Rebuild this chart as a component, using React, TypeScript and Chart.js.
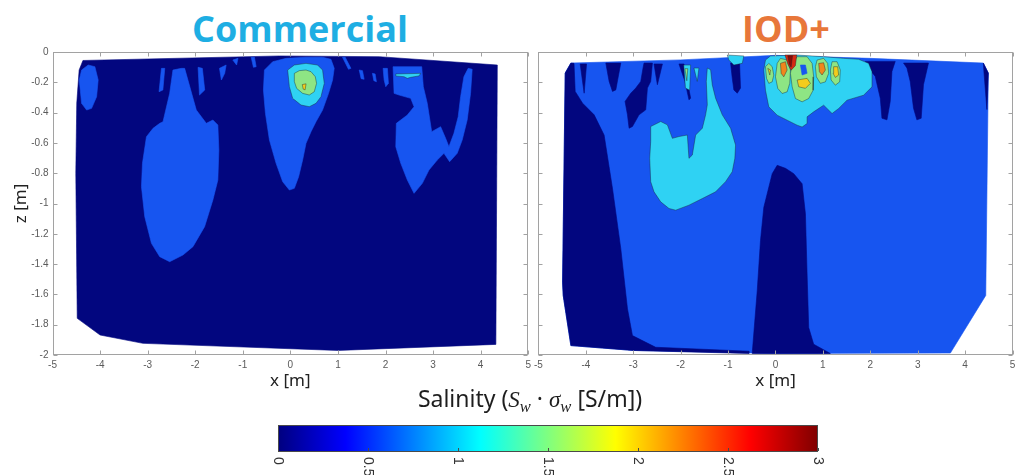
import React, { useEffect, useRef } from 'react';
import { Chart, registerables } from 'chart.js';

Chart.register(...registerables);

type Pt = [number, number];

// ---------------- axis / scale values ----------------
const xRange: Pt = [-5, 5];
const zRange: Pt = [-2, 0];
const xStep = 1;
const zStep = 0.2;
const salinityRange: Pt = [0, 3];
const salinityTicks = [0, 0.5, 1, 1.5, 2, 2.5, 3];
const salinityTickLabels = ['0', '0.5', '1', '1.5', '2', '2.5', '3'];

// jet colour map stops (salinity value -> colour)
const jetStops = [0, 0.375, 1.125, 1.875, 2.625, 3];
const jetColors = ['#00007f', '#0000ff', '#00ffff', '#ffff00', '#ff0000', '#7f0000'];

// filled contour level colours (level index 0..7)
const levelColors = ['#02067f', '#1755f0', '#2fd2f3', '#8ee584', '#f4cc1c', '#f0861c', '#d62a12', '#8c0a05'];

// ---------------- Commercial: contour regions (x [m], z [m]) ----------------
const comHull: Pt[] = [[-4.36, -0.056], [-0.23, -0.026], [1.87, -0.031], [4.35, -0.086], [4.32, -1.93], [1.0, -1.97], [-3.1, -1.923], [-4.0, -1.868], [-4.48, -1.758], [-4.51, -0.8], [-4.49, -0.339], [-4.44, -0.119]];
const comBlueNW: Pt[] = [[-4.388, -0.119], [-4.25, -0.086], [-4.109, -0.097], [-4.04, -0.185], [-4.073, -0.295], [-4.178, -0.372], [-4.283, -0.383], [-4.388, -0.339], [-4.438, -0.185]];
const comBlueWest: Pt[] = [[-2.468, -0.119], [-2.291, -0.108], [-2.222, -0.108], [-1.977, -0.383], [-1.767, -0.471], [-1.629, -0.449], [-1.524, -0.482], [-1.503, -0.647], [-1.524, -0.845], [-1.629, -0.977], [-1.803, -1.153], [-2.048, -1.285], [-2.258, -1.34], [-2.537, -1.384], [-2.746, -1.351], [-2.92, -1.263], [-3.061, -1.087], [-3.13, -0.889], [-3.109, -0.735], [-3.025, -0.559], [-2.887, -0.504], [-2.746, -0.471], [-2.677, -0.46], [-2.537, -0.273]];
const comStrip1: Pt[] = [[-2.71, -0.108], [-2.64, -0.108], [-2.68, -0.251], [-2.76, -0.262]];
const comStrip2: Pt[] = [[-1.94, -0.101], [-1.85, -0.108], [-1.8, -0.251], [-1.91, -0.284]];
const comStrip3: Pt[] = [[-1.49, -0.108], [-1.35, -0.086], [-1.38, -0.141], [-1.45, -0.185]];
const comStrip4: Pt[] = [[-1.21, -0.053], [-1.1, -0.042], [-1.13, -0.086]];
const comStrip5: Pt[] = [[-0.824, -0.035], [-0.755, -0.035], [-0.719, -0.097], [-0.776, -0.101]];
const comStrip6: Pt[] = [[1.096, -0.035], [1.153, -0.035], [1.273, -0.108], [1.222, -0.114]];
const comStrip7: Pt[] = [[1.447, -0.119], [1.516, -0.123], [1.551, -0.18], [1.488, -0.176]];
const comStrip8: Pt[] = [[1.725, -0.141], [1.782, -0.145], [1.809, -0.196], [1.755, -0.189]];
const comStrip9: Pt[] = [[1.95, -0.108], [2.04, -0.108], [2.061, -0.207], [2.006, -0.229], [1.971, -0.185]];
const comBlueCenter: Pt[] = [[-0.545, -0.119], [-0.371, -0.064], [-0.09, -0.042], [0.329, -0.035], [0.677, -0.035], [0.853, -0.048], [0.922, -0.108], [0.887, -0.185], [0.803, -0.273], [0.677, -0.383], [0.539, -0.46], [0.434, -0.526], [0.329, -0.603], [0.258, -0.713], [0.174, -0.823], [0.084, -0.9], [-0.021, -0.911], [-0.161, -0.856], [-0.3, -0.735], [-0.44, -0.581], [-0.524, -0.405], [-0.566, -0.251]];
const comBlueEast: Pt[] = [[2.159, -0.097], [2.761, -0.097], [2.795, -0.229], [2.878, -0.339], [2.971, -0.526], [3.159, -0.493], [3.264, -0.57], [3.333, -0.625], [3.438, -0.537], [3.528, -0.427], [3.579, -0.295], [3.648, -0.163], [3.738, -0.108], [3.822, -0.114], [3.788, -0.273], [3.717, -0.449], [3.612, -0.581], [3.507, -0.669], [3.348, -0.724], [3.229, -0.669], [3.088, -0.713], [2.914, -0.779], [2.774, -0.867], [2.6, -0.933], [2.459, -0.845], [2.321, -0.735], [2.216, -0.625], [2.228, -0.471], [2.459, -0.416], [2.6, -0.361], [2.53, -0.306], [2.285, -0.284], [2.18, -0.273]];
const comCyanCenter: Pt[] = [[-0.057, -0.119], [0.084, -0.086], [0.329, -0.075], [0.572, -0.086], [0.677, -0.119], [0.713, -0.207], [0.644, -0.295], [0.539, -0.339], [0.398, -0.361], [0.224, -0.35], [0.048, -0.306], [-0.021, -0.229]];
const comCyanEast: Pt[] = [[2.216, -0.145], [2.74, -0.141], [2.704, -0.158], [2.53, -0.167], [2.459, -0.174], [2.39, -0.163], [2.216, -0.158]];
const comGreenCenter: Pt[] = [[0.084, -0.141], [0.189, -0.123], [0.329, -0.119], [0.434, -0.13], [0.524, -0.163], [0.551, -0.207], [0.503, -0.262], [0.398, -0.284], [0.258, -0.273], [0.132, -0.24], [0.084, -0.196]];
const comYellowCenter: Pt[] = [[0.25, -0.215], [0.33, -0.21], [0.31, -0.25], [0.27, -0.245]];

// ---------------- IOD+: contour regions (x [m], z [m]) ----------------
const iodHull: Pt[] = [[-4.316, -0.073], [-2, -0.052], [0, -0.022], [2, -0.042], [4.385, -0.073], [4.49, -0.139], [4.436, -1.607], [3.69, -1.987], [0, -1.99], [-3, -1.97], [-4.316, -1.938], [-4.478, -1.607], [-4.491, -1.519], [-4.436, -0.139]];
const iodNavyWest: Pt[] = [[-4.436, -0.139], [-4.316, -0.073], [-4.25, -0.075], [-4.225, -0.26], [-4.069, -0.338], [-3.825, -0.415], [-3.615, -0.548], [-3.438, -0.901], [-3.263, -1.298], [-3.122, -1.695], [-3.017, -1.872], [-2.526, -1.949], [-0.562, -1.975], [-0.562, -1.99], [-3, -1.97], [-4.316, -1.938], [-4.478, -1.607], [-4.491, -1.519]];
const iodNavyColumn: Pt[] = [[-0.069, -0.803], [0.036, -0.748], [0.211, -0.768], [0.385, -0.803], [0.562, -0.87], [0.632, -1.068], [0.667, -1.466], [0.701, -1.819], [0.806, -1.929], [1.158, -1.99], [-0.491, -1.99], [-0.385, -1.576], [-0.316, -1.245], [-0.246, -1.025]];
const iodNotch1: Pt[] = [[-4.12, -0.079], [-3.985, -0.079], [-4.036, -0.272]];
const iodNotch2: Pt[] = [[-3.579, -0.073], [-3.263, -0.073], [-3.368, -0.25], [-3.438, -0.26], [-3.509, -0.194]];
const iodNotch3: Pt[] = [[-2.773, -0.073], [-2.596, -0.073], [-2.632, -0.194], [-2.701, -0.238], [-2.737, -0.382], [-2.878, -0.415], [-3.017, -0.492], [-3.088, -0.503], [-3.122, -0.415], [-3.173, -0.326], [-3.053, -0.272], [-2.947, -0.238], [-2.842, -0.194], [-2.794, -0.106]];
const iodNotch4: Pt[] = [[-2.562, -0.079], [-2.385, -0.079], [-2.491, -0.216]];
const iodNotch5: Pt[] = [[-2.036, -0.079], [-1.931, -0.079], [-1.789, -0.305], [-1.825, -0.316], [-1.909, -0.194]];
const iodNotch6: Pt[] = [[-0.947, -0.073], [-0.758, -0.073], [-0.737, -0.238], [-0.806, -0.272], [-0.878, -0.25], [-0.912, -0.172]];
const iodNotch7: Pt[] = [[1.895, -0.062], [2.526, -0.062], [2.457, -0.128], [2.421, -0.326], [2.352, -0.448], [2.246, -0.437], [2.211, -0.305], [2.105, -0.161], [1.964, -0.106]];
const iodNotch8: Pt[] = [[2.701, -0.073], [3.228, -0.073], [3.122, -0.216], [3.074, -0.437], [2.983, -0.448], [2.912, -0.371], [2.842, -0.194], [2.773, -0.106]];
const iodNotch9: Pt[] = [[4.385, -0.073], [4.49, -0.139], [4.46, -0.38], [4.4, -0.14]];
const iodCyanWest: Pt[] = [[-2.632, -0.492], [-2.421, -0.459], [-2.28, -0.481], [-2.175, -0.57], [-2.036, -0.558], [-1.859, -0.548], [-1.825, -0.702], [-1.754, -0.68], [-1.684, -0.548], [-1.543, -0.503], [-1.474, -0.415], [-1.438, -0.349], [-1.459, -0.194], [-1.438, -0.106], [-1.368, -0.117], [-1.333, -0.217], [-1.263, -0.305], [-1.122, -0.415], [-0.947, -0.503], [-0.842, -0.614], [-0.857, -0.702], [-0.912, -0.79], [-1.053, -0.856], [-1.263, -0.923], [-1.543, -0.967], [-1.825, -1.011], [-2.105, -1.044], [-2.246, -1.033], [-2.421, -0.989], [-2.562, -0.923], [-2.632, -0.856], [-2.653, -0.702], [-2.632, -0.591]];
const iodCyanBit1: Pt[] = [[-1.935, -0.086], [-1.79, -0.086], [-1.81, -0.252], [-1.9, -0.238]];
const iodCyanBit2: Pt[] = [[-1.72, -0.106], [-1.615, -0.106], [-1.65, -0.194]];
const iodCyanTop: Pt[] = [[-1.017, -0.02], [-0.667, -0.026], [-0.701, -0.075], [-0.878, -0.086], [-0.983, -0.053]];
const iodCyanCenter: Pt[] = [[-0.211, -0.053], [-0.246, -0.119], [-0.211, -0.252], [-0.141, -0.362], [0.036, -0.417], [0.246, -0.45], [0.457, -0.483], [0.562, -0.495], [0.667, -0.472], [0.667, -0.428], [0.806, -0.395], [1.017, -0.351], [1.194, -0.406], [1.333, -0.373], [1.509, -0.318], [1.859, -0.285], [2.036, -0.23], [2.036, -0.13], [1.964, -0.075], [1.754, -0.048], [1.438, -0.042], [1.017, -0.031], [0.457, -0.02], [-0.105, -0.026]];
const iodGreenBit: Pt[] = [[-1.91, -0.11], [-1.85, -0.11], [-1.87, -0.19]];
const iodGreen1: Pt[] = [[-0.211, -0.097], [-0.141, -0.075], [-0.069, -0.097], [-0.036, -0.152], [-0.069, -0.197], [-0.141, -0.207], [-0.189, -0.174]];
const iodGreen2: Pt[] = [[0.036, -0.075], [0.105, -0.042], [0.246, -0.053], [0.316, -0.119], [0.301, -0.207], [0.246, -0.263], [0.141, -0.274], [0.048, -0.24], [0.0, -0.164]];
const iodGreen3: Pt[] = [[0.352, -0.075], [0.457, -0.031], [0.667, -0.031], [0.773, -0.075], [0.806, -0.164], [0.794, -0.252], [0.701, -0.307], [0.562, -0.329], [0.421, -0.307], [0.352, -0.23], [0.316, -0.141]];
const iodGreen4: Pt[] = [[0.878, -0.053], [1.017, -0.042], [1.101, -0.075], [1.122, -0.141], [1.053, -0.197], [0.947, -0.207], [0.863, -0.164], [0.842, -0.097]];
const iodGreen5: Pt[] = [[1.194, -0.064], [1.299, -0.064], [1.368, -0.119], [1.354, -0.197], [1.263, -0.219], [1.173, -0.185], [1.158, -0.119]];
const iodBlueSpot: Pt[] = [[0.526, -0.086], [0.632, -0.086], [0.667, -0.141], [0.562, -0.152]];
const iodYellow1: Pt[] = [[-0.162, -0.108], [-0.105, -0.119], [-0.12, -0.152]];
const iodYellow3: Pt[] = [[0.457, -0.185], [0.667, -0.174], [0.737, -0.207], [0.632, -0.24], [0.491, -0.23]];
const iodYellow5: Pt[] = [[1.227, -0.097], [1.312, -0.097], [1.333, -0.152], [1.263, -0.168], [1.215, -0.141]];
const iodOrange2: Pt[] = [[0.105, -0.075], [0.211, -0.064], [0.246, -0.119], [0.175, -0.164], [0.12, -0.141]];
const iodOrange4: Pt[] = [[0.912, -0.075], [1.017, -0.071], [1.053, -0.119], [0.983, -0.152], [0.926, -0.13]];
const iodRed: Pt[] = [[0.2, -0.02], [0.45, -0.02], [0.42, -0.09], [0.33, -0.12], [0.26, -0.08]];
const iodDarkRed: Pt[] = [[0.26, -0.025], [0.36, -0.025], [0.33, -0.1], [0.29, -0.08]];

type Layer = { level: number; pts: Pt[] };

// bottom-to-top drawing order
const commercialLayers: Layer[] = [
  { level: 0, pts: comHull },
  { level: 1, pts: comBlueNW },
  { level: 1, pts: comBlueWest },
  { level: 1, pts: comStrip1 },
  { level: 1, pts: comStrip2 },
  { level: 1, pts: comStrip3 },
  { level: 1, pts: comStrip4 },
  { level: 1, pts: comStrip5 },
  { level: 1, pts: comStrip6 },
  { level: 1, pts: comStrip7 },
  { level: 1, pts: comStrip8 },
  { level: 1, pts: comStrip9 },
  { level: 1, pts: comBlueCenter },
  { level: 1, pts: comBlueEast },
  { level: 2, pts: comCyanCenter },
  { level: 2, pts: comCyanEast },
  { level: 3, pts: comGreenCenter },
  { level: 4, pts: comYellowCenter },
];

const iodLayers: Layer[] = [
  { level: 1, pts: iodHull },
  { level: 0, pts: iodNavyWest },
  { level: 0, pts: iodNavyColumn },
  { level: 0, pts: iodNotch1 },
  { level: 0, pts: iodNotch2 },
  { level: 0, pts: iodNotch3 },
  { level: 0, pts: iodNotch4 },
  { level: 0, pts: iodNotch5 },
  { level: 0, pts: iodNotch6 },
  { level: 0, pts: iodNotch7 },
  { level: 0, pts: iodNotch8 },
  { level: 0, pts: iodNotch9 },
  { level: 2, pts: iodCyanWest },
  { level: 2, pts: iodCyanBit1 },
  { level: 2, pts: iodCyanBit2 },
  { level: 2, pts: iodCyanTop },
  { level: 2, pts: iodCyanCenter },
  { level: 3, pts: iodGreenBit },
  { level: 3, pts: iodGreen1 },
  { level: 3, pts: iodGreen2 },
  { level: 3, pts: iodGreen3 },
  { level: 3, pts: iodGreen4 },
  { level: 3, pts: iodGreen5 },
  { level: 1, pts: iodBlueSpot },
  { level: 4, pts: iodYellow1 },
  { level: 4, pts: iodYellow3 },
  { level: 4, pts: iodYellow5 },
  { level: 5, pts: iodOrange2 },
  { level: 5, pts: iodOrange4 },
  { level: 6, pts: iodRed },
  { level: 7, pts: iodDarkRed },
];

// ---------------- plugins ----------------
const matlabAxes = {
  id: 'matlabAxes',
  afterDraw(chart: any) {
    const { ctx, chartArea: a, scales } = chart;
    const xs = scales.x;
    const ys = scales.y;
    const L = Math.round(a.left) + 0.5;
    const R = Math.round(a.right) - 0.5;
    const T = Math.round(a.top) + 0.5;
    const B = Math.round(a.bottom) - 0.5;
    const tl = 4;
    ctx.save();
    ctx.strokeStyle = '#a2a2a2';
    ctx.lineWidth = 1;
    ctx.strokeRect(L, T, R - L, B - T);
    ctx.beginPath();
    xs.ticks.forEach((t: any) => {
      const p = Math.round(xs.getPixelForValue(t.value)) + 0.5;
      ctx.moveTo(p, B);
      ctx.lineTo(p, B - tl);
      ctx.moveTo(p, T);
      ctx.lineTo(p, T + tl);
    });
    ys.ticks.forEach((t: any) => {
      const p = Math.round(ys.getPixelForValue(t.value)) + 0.5;
      ctx.moveTo(L, p);
      ctx.lineTo(L + tl, p);
      ctx.moveTo(R, p);
      ctx.lineTo(R - tl, p);
    });
    ctx.stroke();
    ctx.restore();
  },
};

const colorbarAxis = {
  id: 'colorbarAxis',
  afterDraw(chart: any) {
    const { ctx, chartArea: a, scales } = chart;
    const xs = scales.x;
    ctx.save();
    ctx.strokeStyle = '#4a4a4a';
    ctx.lineWidth = 1;
    ctx.strokeRect(Math.round(a.left) + 0.5, Math.round(a.top) + 0.5, Math.round(a.right - a.left) - 1, Math.round(a.bottom - a.top) - 1);
    ctx.beginPath();
    salinityTicks.forEach((v) => {
      const p = Math.round(xs.getPixelForValue(v)) + 0.5;
      ctx.moveTo(p, a.bottom - 1);
      ctx.lineTo(p, a.bottom - 4);
    });
    ctx.stroke();
    ctx.fillStyle = '#333';
    ctx.font = '14px "Liberation Sans", Arial, sans-serif';
    ctx.textAlign = 'left';
    ctx.textBaseline = 'middle';
    salinityTicks.forEach((v, i) => {
      const p = xs.getPixelForValue(v);
      ctx.save();
      ctx.translate(p, a.bottom + 5);
      ctx.rotate(Math.PI / 2);
      ctx.fillText(salinityTickLabels[i], 0, 0);
      ctx.restore();
    });
    ctx.restore();
  },
};

// ---------------- components ----------------
const tickFont = { family: '"Liberation Sans", Arial, sans-serif', size: 10 };
const axisTitleFont = { family: '"Noto Sans", sans-serif', size: 17 };

function layerDatasets(layers: Layer[]) {
  return layers
    .map((ly) => {
      const outlined = ly.level >= 2;
      const data = [...ly.pts, ly.pts[0]].map(([x, z]) => ({ x, y: z }));
      return {
        type: 'line' as const,
        data,
        showLine: true,
        fill: 'shape',
        backgroundColor: levelColors[ly.level],
        borderColor: outlined ? 'rgba(25,35,45,0.6)' : levelColors[ly.level],
        borderWidth: outlined ? 0.7 : 0.6,
        pointRadius: 0,
        tension: 0,
      };
    })
    .reverse();
}

type PanelProps = {
  layers: Layer[];
  left: number;
  width: number;
  padRight: number;
  yAxisWidth: number;
  showYLabels: boolean;
};

function ContourPanel({ layers, left, width, padRight, yAxisWidth, showYLabels }: PanelProps) {
  const ref = useRef<HTMLCanvasElement | null>(null);
  useEffect(() => {
    if (!ref.current) return;
    const chart = new Chart(ref.current, {
      type: 'scatter',
      data: { datasets: layerDatasets(layers) as any },
      options: {
        animation: false,
        responsive: false,
        events: [],
        layout: { padding: { left: 0, top: 52, right: padRight, bottom: 0 } },
        plugins: { legend: { display: false }, tooltip: { enabled: false } },
        scales: {
          x: {
            type: 'linear',
            min: xRange[0],
            max: xRange[1],
            grid: { display: false, drawTicks: false },
            border: { display: false },
            ticks: { stepSize: xStep, color: '#5a5a5a', font: tickFont, padding: 4, maxRotation: 0, autoSkip: false },
            title: { display: true, text: 'x [m]', color: '#222', font: axisTitleFont, padding: { top: 0, bottom: 9 } },
            afterFit: (s: any) => {
              s.height = 45;
            },
          },
          y: {
            type: 'linear',
            min: zRange[0],
            max: zRange[1],
            grid: { display: false, drawTicks: false },
            border: { display: false },
            ticks: {
              display: showYLabels,
              stepSize: zStep,
              color: '#5a5a5a',
              font: tickFont,
              padding: 4,
              autoSkip: false,
              callback: (v: any) => String(Math.round(Number(v) * 10) / 10),
            },
            title: { display: showYLabels, text: 'z [m]', color: '#222', font: axisTitleFont, padding: { top: 11, bottom: 0 } },
            afterFit: (s: any) => {
              s.width = yAxisWidth;
            },
          },
        },
      } as any,
      plugins: [matlabAxes],
    });
    return () => chart.destroy();
  }, []);
  return (
    <canvas
      ref={ref}
      width={width}
      height={400}
      style={{ position: 'absolute', left, top: 0, width, height: 400 }}
    />
  );
}

function Colorbar() {
  const ref = useRef<HTMLCanvasElement | null>(null);
  useEffect(() => {
    if (!ref.current) return;
    const rect = [
      { x: salinityRange[0], y: 0 },
      { x: salinityRange[1], y: 0 },
      { x: salinityRange[1], y: 1 },
      { x: salinityRange[0], y: 1 },
      { x: salinityRange[0], y: 0 },
    ];
    const chart = new Chart(ref.current, {
      type: 'scatter',
      data: {
        datasets: [
          {
            type: 'line',
            data: rect,
            showLine: true,
            fill: 'shape',
            borderWidth: 0,
            pointRadius: 0,
            backgroundColor: (c: any) => {
              const ch = c.chart;
              const xs = ch.scales && ch.scales.x;
              if (!ch.chartArea || !xs) return '#1755f0';
              const x0 = xs.getPixelForValue(salinityRange[0]);
              const x1 = xs.getPixelForValue(salinityRange[1]);
              const g = ch.ctx.createLinearGradient(x0, 0, x1, 0);
              jetStops.forEach((v, i) => g.addColorStop((v - salinityRange[0]) / (salinityRange[1] - salinityRange[0]), jetColors[i]));
              return g;
            },
          } as any,
        ],
      },
      options: {
        animation: false,
        responsive: false,
        events: [],
        layout: { padding: { left: 8, right: 12, top: 10, bottom: 23 } },
        plugins: { legend: { display: false }, tooltip: { enabled: false } },
        scales: {
          x: { type: 'linear', min: salinityRange[0], max: salinityRange[1], display: false },
          y: { type: 'linear', min: 0, max: 1, display: false },
        },
      } as any,
      plugins: [colorbarAxis],
    });
    return () => chart.destroy();
  }, []);
  return <canvas ref={ref} width={560} height={60} style={{ position: 'absolute', left: 270, top: 415, width: 560, height: 60 }} />;
}

const mathItalic: React.CSSProperties = { fontFamily: '"Liberation Serif", "DejaVu Serif", serif', fontStyle: 'italic' };
const mathSub: React.CSSProperties = { fontFamily: '"Liberation Serif", "DejaVu Serif", serif', fontStyle: 'italic', fontSize: '0.72em', position: 'relative', top: '0.3em' };

export default function App() {
  return (
    <div
      style={{
        position: 'absolute',
        left: 0,
        top: 0,
        width: 1024,
        height: 475,
        background: '#ffffff',
        overflow: 'hidden',
      }}
    >
      <div
        style={{
          position: 'absolute',
          left: 150,
          top: 11,
          width: 300,
          textAlign: 'center',
          font: 'bold 36px "Open Sans", sans-serif',
          lineHeight: '36px',
          color: '#1eaee3',
        }}
      >
        Commercial
      </div>
      <div
        style={{
          position: 'absolute',
          left: 686,
          top: 11,
          width: 200,
          textAlign: 'center',
          font: 'bold 36px "Open Sans", sans-serif',
          lineHeight: '36px',
          color: '#e8773a',
        }}
      >
        IOD+
      </div>
      <ContourPanel layers={commercialLayers} left={0} width={535} padRight={5.5} yAxisWidth={52.5} showYLabels={true} />
      <ContourPanel layers={iodLayers} left={530} width={494} padRight={11.5} yAxisWidth={7.5} showYLabels={false} />
      <div
        style={{
          position: 'absolute',
          left: 330,
          top: 384,
          width: 400,
          textAlign: 'center',
          font: '23px "Noto Sans", sans-serif',
          lineHeight: '28px',
          color: '#1e1e1e',
          whiteSpace: 'nowrap',
        }}
      >
        Salinity (<span style={mathItalic}>S</span>
        <span style={mathSub}>w</span> · <span style={mathItalic}>σ</span>
        <span style={mathSub}>w</span> [S/m])
      </div>
      <Colorbar />
    </div>
  );
}
